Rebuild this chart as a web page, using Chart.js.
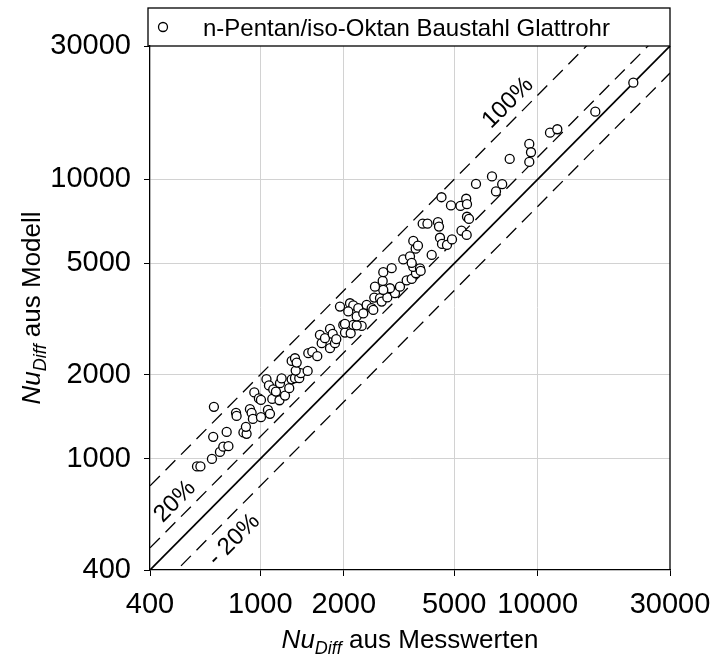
<!DOCTYPE html>
<html>
<head>
<meta charset="utf-8">
<script src="https://cdn.jsdelivr.net/npm/chart.js@4.4.1/dist/chart.umd.min.js"></script>
<style>
  html, body { margin: 0; padding: 0; background: #ffffff; }
  #wrap { width: 711px; height: 662px; }
</style>
</head>
<body>
<div id="wrap"><canvas id="chart" width="711" height="662"></canvas></div>
<script>
// Nu_Diff: measured values (x) against model prediction (y)
const nuMeasured = [
  591, 608, 669, 715, 735, 767, 676, 756, 680, 869,
  892, 887, 817, 821, 917, 930, 940, 951, 988, 1005,
  1005, 1065, 1083, 1052, 1074, 1113, 1104, 1138, 1172, 1177,
  1193, 1227, 1271, 1297, 1333, 1381, 1398, 1341, 1297, 1333,
  1352, 1481, 1489, 1539, 1604, 1640, 1664, 1710, 1783, 1823,
  1783, 1858, 1878, 1991, 2019, 2117, 2163, 2319, 2019, 2225,
  1937, 2105, 2163, 2255, 2417, 2520, 2075, 2225, 2350, 2554,
  2575, 2700, 2738, 2869, 3058, 2934, 2775, 2590, 2761, 2775,
  2975, 3187, 3370, 3513, 3640, 3560, 3763, 3276, 3464, 3513,
  3785, 4148, 3560, 3631, 3701, 3849, 4005, 4370, 4407, 4443,
  4518, 4709, 4909, 5312, 5546, 5560, 5653, 4499, 4868, 5268,
  5524, 5560, 5992, 6843, 7074, 7448, 7927, 9327, 9460, 9327,
  11077, 11770, 16136, 22124
];
const nuModel = [
  939, 939, 999, 1058, 1105, 1110, 1198, 1248, 1534, 1243,
  1228, 1301, 1460, 1424, 1505, 1460, 1389, 1728, 1645, 1624,
  1409, 1496, 1448, 1927, 1831, 1771, 1638, 1740, 1620, 1864,
  1939, 1683, 1789, 1924, 1943, 1943, 2024, 2068, 2240, 2290,
  2209, 2063, 2387, 2418, 2329, 2775, 2592, 2701, 2916, 2798,
  2487, 2592, 2679, 3014, 2828, 2814, 3014, 2989, 3038, 3001,
  3504, 3603, 3539, 3458, 3553, 3458, 3368, 3232, 3313, 3410,
  3774, 3755, 3651, 3780, 3913, 4077, 4021, 4131, 4330, 4652,
  4808, 4131, 4348, 4402, 4613, 4859, 4799, 5169, 5298, 5022,
  4702, 5364, 6020, 5646, 5787, 6942, 6942, 7028, 6773, 6181,
  5873, 5825, 6095, 6548, 6325, 7348, 7216, 8629, 8065, 8032,
  8522, 8151, 9627, 10241, 9050, 9612, 11829, 13385, 12501, 11540,
  14692, 15109, 17466, 22180
];

// axis range and labelled ticks (same for both axes)
const axisMin = 400;
const axisMax = 30000;
const tickValues = [400, 1000, 2000, 5000, 10000, 30000];

// deviation bands: model = factor * measured
const bandFactors = [2, 1.2, 1, 0.8];
const bandLabels = ['100%', '20%', '- 20%'];
const bandLabelAnchors = [[7815, 18760], [492, 703], [803, 513]];

const legendText = 'n-Pentan/iso-Oktan Baustahl Glattrohr';
const FONT = '"Liberation Sans", Arial, Helvetica, sans-serif';

const points = nuMeasured.map((v, i) => ({ x: v, y: nuModel[i] }));

const bandSets = bandFactors.map(f => ({
  data: [{ x: axisMin, y: axisMin * f }, { x: axisMax, y: axisMax * f }],
  showLine: true,
  pointRadius: 0,
  borderColor: '#000000',
  borderWidth: f === 1 ? 1.7 : 1.3,
  borderDash: f === 1 ? [] : [14, 8],
  fill: false,
  order: 2
}));

function gridColor(ctx) {
  const v = ctx.tick ? ctx.tick.value : null;
  return (v === axisMin || v === axisMax) ? 'rgba(0,0,0,0)' : '#d2d2d2';
}

function drawRich(ctx, parts, x, y, align) {
  // parts: [text, font, baselineShift]
  let total = 0;
  parts.forEach(p => { ctx.font = p[1]; total += ctx.measureText(p[0]).width; });
  let cx = align === 'center' ? x - total / 2 : x;
  parts.forEach(p => {
    ctx.font = p[1];
    ctx.fillText(p[0], cx, y + p[2]);
    cx += ctx.measureText(p[0]).width;
  });
}

const decor = {
  id: 'decor',
  afterDraw(chart) {
    const { ctx, chartArea: a, scales } = chart;
    const xs = scales.x, ys = scales.y;
    ctx.save();
    ctx.strokeStyle = '#000000';
    ctx.fillStyle = '#000000';

    // right frame edge
    ctx.lineWidth = 1.3;
    ctx.beginPath();
    ctx.moveTo(a.right, a.top);
    ctx.lineTo(a.right, a.bottom);
    ctx.stroke();

    // legend box across the top
    ctx.strokeRect(148, 8, a.right - 148, a.top - 8);
    ctx.beginPath();
    ctx.arc(163, 27, 4.5, 0, Math.PI * 2);
    ctx.fillStyle = '#ffffff';
    ctx.fill();
    ctx.stroke();
    ctx.fillStyle = '#000000';
    ctx.font = '24px ' + FONT;
    ctx.textBaseline = 'alphabetic';
    ctx.textAlign = 'left';
    ctx.fillText(legendText, 203, 36);

    // band labels, rotated along the lines
    ctx.font = '24px ' + FONT;
    ctx.textAlign = 'center';
    ctx.textBaseline = 'middle';
    bandLabels.forEach((t, i) => {
      const px = xs.getPixelForValue(bandLabelAnchors[i][0]);
      const py = ys.getPixelForValue(bandLabelAnchors[i][1]);
      ctx.save();
      ctx.translate(px, py);
      ctx.rotate(-Math.PI / 4);
      ctx.fillText(t, 0, 0);
      ctx.restore();
    });

    // axis titles with subscript
    ctx.textAlign = 'left';
    ctx.textBaseline = 'alphabetic';
    const big = 26, small = 18;
    const xParts = [
      ['Nu', 'italic ' + big + 'px ' + FONT, 0],
      ['Diff', 'italic ' + small + 'px ' + FONT, 6],
      [' aus Messwerten', big + 'px ' + FONT, 0]
    ];
    drawRich(ctx, xParts, (a.left + a.right) / 2, 648, 'center');

    const yParts = [
      ['Nu', 'italic ' + big + 'px ' + FONT, 0],
      ['Diff', 'italic ' + small + 'px ' + FONT, 6],
      [' aus Modell', big + 'px ' + FONT, 0]
    ];
    ctx.save();
    ctx.translate(40, (a.top + a.bottom) / 2);
    ctx.rotate(-Math.PI / 2);
    drawRich(ctx, yParts, 0, 0, 'center');
    ctx.restore();

    ctx.restore();
  }
};

function axisOptions(isX) {
  return {
    type: 'logarithmic',
    min: axisMin,
    max: axisMax,
    afterBuildTicks: s => { s.ticks = tickValues.map(v => ({ value: v })); },
    afterFit: s => {
      if (isX) { s.height = 92; s.paddingLeft = 0; s.paddingRight = 0; }
      else { s.width = 150; s.paddingTop = 0; s.paddingBottom = 0; }
    },
    ticks: {
      callback: v => String(v),
      autoSkip: false,
      maxRotation: 0,
      color: '#000000',
      padding: isX ? 12 : 13,
      font: { family: FONT, size: 29 }
    },
    grid: {
      color: gridColor,
      lineWidth: 1,
      tickColor: '#000000',
      tickLength: 6,
      drawTicks: true
    },
    border: { color: '#000000', width: 1.3 }
  };
}

new Chart(document.getElementById('chart'), {
  type: 'scatter',
  data: {
    datasets: [
      {
        data: points,
        pointStyle: 'circle',
        pointRadius: 4.5,
        pointBorderWidth: 1.3,
        pointBorderColor: '#000000',
        pointBackgroundColor: '#ffffff',
        order: 1
      },
      ...bandSets
    ]
  },
  options: {
    responsive: false,
    animation: false,
    layout: { padding: { top: 46, right: 41, left: 0, bottom: 0 } },
    plugins: { legend: { display: false }, tooltip: { enabled: false } },
    scales: { x: axisOptions(true), y: axisOptions(false) }
  },
  plugins: [decor]
});
</script>
</body>
</html>
